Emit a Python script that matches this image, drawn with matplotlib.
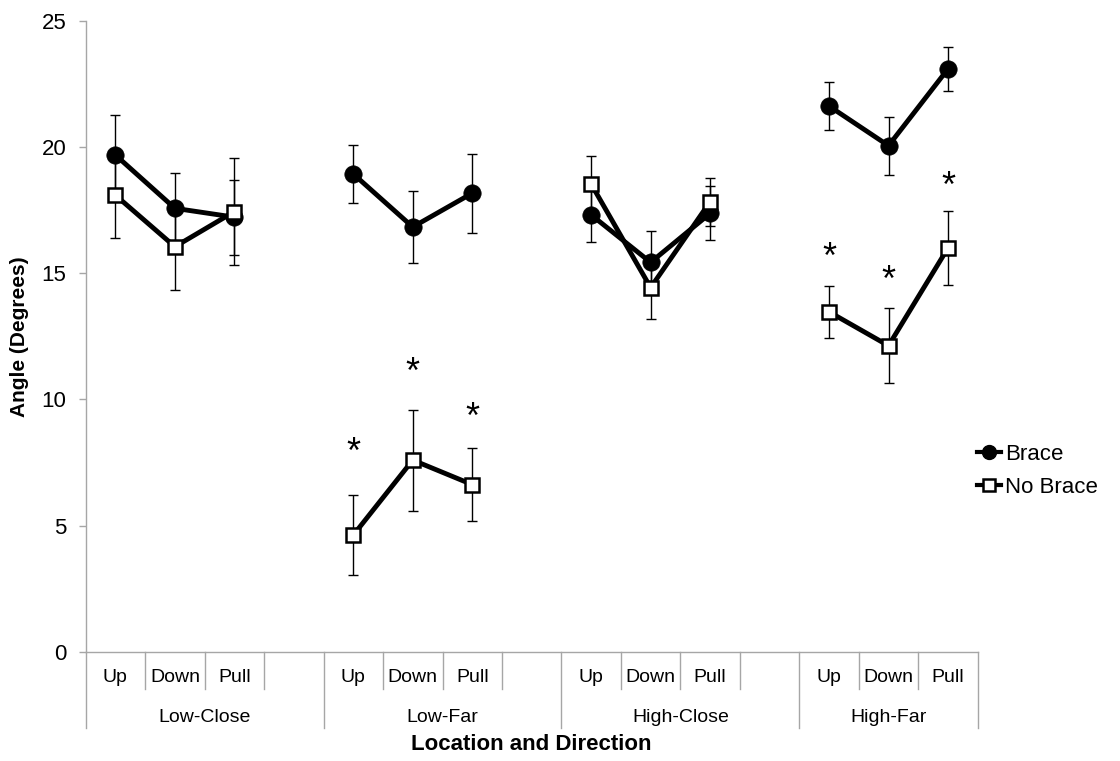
import numpy as np
import matplotlib
matplotlib.use('Agg')
import matplotlib.pyplot as plt
from matplotlib.lines import Line2D

plt.rcParams['font.family'] = ['Liberation Sans', 'DejaVu Sans']

locations = ['Low-Close', 'Low-Far', 'High-Close', 'High-Far']
directions = ['Up', 'Down', 'Pull']

# values, in the order location x direction
brace = [19.68, 17.57, 17.22, 18.93, 16.83, 18.17, 17.31, 15.43, 17.37, 21.62, 20.05, 23.09]
brace_err = [1.60, 1.41, 1.48, 1.14, 1.42, 1.56, 1.08, 1.23, 1.07, 0.94, 1.15, 0.87]
no_brace = [18.09, 16.05, 17.44, 4.63, 7.60, 6.63, 18.53, 14.43, 17.83, 13.47, 12.13, 16.00]
no_brace_err = [1.68, 1.70, 2.12, 1.60, 2.00, 1.45, 1.13, 1.24, 0.95, 1.04, 1.48, 1.47]

# significance stars: index into the 12 points, and height of the star
star_idx = [3, 4, 5, 9, 10, 11]
star_y = [8.13, 11.33, 9.54, 15.88, 14.96, 18.69]

# each location takes 4 slots (3 directions + a blank), last one has no blank
slots = [g * 4 + d for g in range(len(locations)) for d in range(len(directions))]
n_slots = 4 * len(locations) - 1

fig = plt.figure(figsize=(11.2, 7.61), dpi=100)
ax = fig.add_axes([85.7 / 1120, 1 - 652 / 761, (977.7 - 85.7) / 1120, (652 - 20.7) / 761])

grey = '#a6a6a6'
ax.errorbar(slots, brace, yerr=brace_err, fmt='none', ecolor='black', elinewidth=1,
            capsize=3.6, capthick=1, zorder=2)
ax.errorbar(slots, no_brace, yerr=no_brace_err, fmt='none', ecolor='black', elinewidth=1,
            capsize=3.6, capthick=1, zorder=2)

for g in range(len(locations)):
    xs = slots[g * 3:g * 3 + 3]
    ax.plot(xs, brace[g * 3:g * 3 + 3], color='black', lw=3.5, marker='o', ms=12.5,
            mfc='black', mec='black', mew=0.5, zorder=3)
    ax.plot(xs, no_brace[g * 3:g * 3 + 3], color='black', lw=3.5, marker='s', ms=10.5,
            mfc='white', mec='black', mew=1.8, zorder=4)

for i, yv in zip(star_idx, star_y):
    ax.annotate('*', (slots[i], yv), xytext=(0, -12), textcoords='offset points',
                ha='center', va='baseline', fontsize=26)

ax.set_xlim(-0.5, n_slots - 0.5)
ax.set_ylim(0, 25)
ax.set_yticks([0, 5, 10, 15, 20, 25])
ax.tick_params(axis='y', direction='out', length=5, width=1, color=grey, labelsize=16, pad=9)
ax.set_xticks([])
for s in ['top', 'right']:
    ax.spines[s].set_visible(False)
for s in ['left', 'bottom']:
    ax.spines[s].set_color(grey)
    ax.spines[s].set_linewidth(1)

# category separators and labels under the axis
trans = ax.get_xaxis_transform()
ax_h = 652 - 20.7
short = 37 / ax_h
long_ = 76 / ax_h
for k in range(n_slots + 1):
    xb = k - 0.5
    ln = long_ if (k % 4 == 0 or k == n_slots) else short
    ax.plot([xb, xb], [0, -ln], transform=trans, color=grey, lw=1, clip_on=False)
for i, s in enumerate(slots):
    ax.text(s, -26 / ax_h, directions[i % 3], transform=trans, ha='center', va='center',
            fontsize=14)
for g, name in enumerate(locations):
    end = min(g * 4 + 4, n_slots)
    ax.text((g * 4 - 0.5 + end - 0.5) / 2, -66 / ax_h, name, transform=trans,
            ha='center', va='center', fontsize=14)

fig.text((85.7 + 977.7) / 2 / 1120, 1 - 745 / 761, 'Location and Direction',
         ha='center', va='center', fontsize=16, fontweight='bold')
fig.text(20 / 1120, 1 - 337 / 761, 'Angle (Degrees)', rotation=90,
         ha='center', va='center', fontsize=15, fontweight='bold')

handles = [Line2D([], [], color='black', lw=3, marker='o', ms=10, mfc='black', mec='black'),
           Line2D([], [], color='black', lw=3, marker='s', ms=9, mfc='white', mec='black', mew=1.8)]
fig.legend(handles, ['Brace', 'No Brace'], loc='center left',
           bbox_to_anchor=(957 / 1120, 1 - 471 / 761), frameon=False, fontsize=16,
           handlelength=1.1, handletextpad=0.15, labelspacing=0.55)

fig.savefig('out.png', dpi=100)
